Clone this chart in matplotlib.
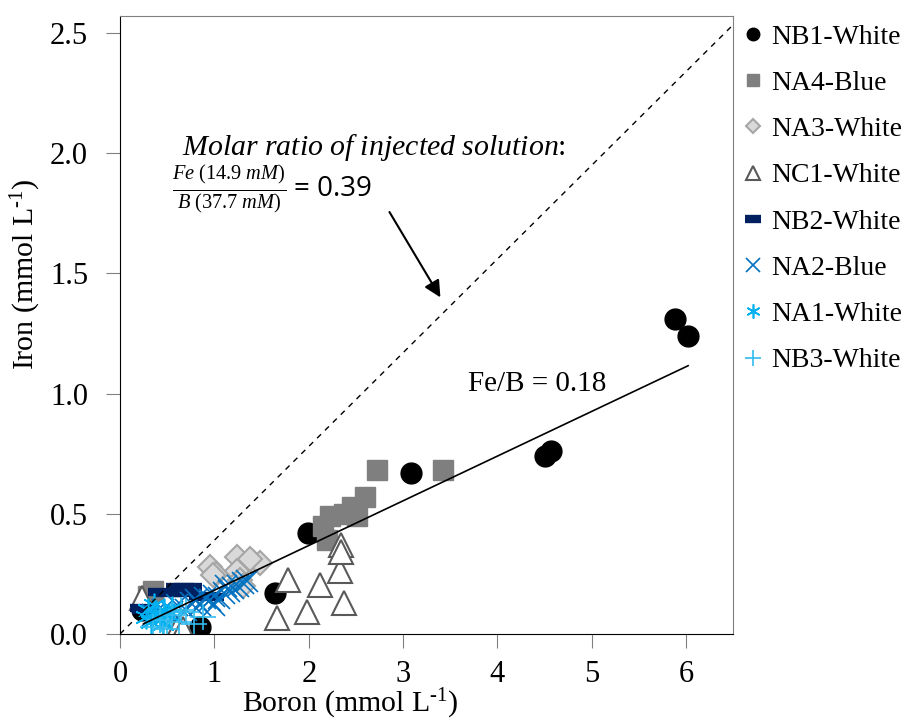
import numpy as np
import matplotlib.pyplot as plt

# series values (boron, iron) in mmol/L
nb1_b = [5.88, 6.02, 4.50, 4.57, 3.08, 1.99, 1.64, 0.85, 0.23]
nb1_fe = [1.31, 1.24, 0.74, 0.76, 0.67, 0.42, 0.17, 0.03, 0.10]

na4_b = [2.72, 3.42, 2.60, 2.46, 2.37, 2.23, 2.15, 2.19, 2.51, 0.35, 0.30]
na4_fe = [0.68, 0.68, 0.57, 0.53, 0.50, 0.49, 0.45, 0.39, 0.49, 0.18, 0.16]

na3_b = [0.95, 1.24, 1.02, 1.41, 1.48, 1.24, 1.27, 1.30, 0.99, 1.38]
na3_fe = [0.28, 0.32, 0.25, 0.30, 0.295, 0.26, 0.225, 0.20, 0.245, 0.31]

nc1_b = [1.78, 2.12, 2.33, 2.37, 1.66, 1.98, 2.34, 2.34, 0.23, 0.60, 0.67]
nc1_fe = [0.225, 0.205, 0.26, 0.13, 0.065, 0.09, 0.37, 0.34, 0.15, 0.02, 0.02]

nb2_b = [0.44, 0.64, 0.72, 0.51, 0.69, 0.88, 0.25, 0.28, 0.95]
nb2_fe = [0.176, 0.197, 0.197, 0.17, 0.17, 0.16, 0.11, 0.10, 0.155]

na2_b = [0.35, 0.45, 0.55, 0.60, 0.70, 0.75, 0.85, 0.90, 0.95, 1.00,
         1.05, 1.10, 1.15, 1.20, 1.25, 1.30, 1.35, 0.80, 1.12, 1.00]
na2_fe = [0.08, 0.10, 0.09, 0.12, 0.10, 0.13, 0.12, 0.15, 0.14, 0.16,
          0.15, 0.17, 0.18, 0.19, 0.20, 0.21, 0.22, 0.14, 0.20, 0.12]

na1_b = [0.28, 0.33, 0.38, 0.42, 0.47, 0.52, 0.36, 0.30, 0.45, 0.55]
na1_fe = [0.07, 0.05, 0.09, 0.06, 0.10, 0.08, 0.12, 0.10, 0.04, 0.11]

nb3_b = [0.35, 0.42, 0.50, 0.55, 0.62, 0.70, 0.78, 0.88, 0.45, 0.65]
nb3_fe = [0.03, 0.06, 0.02, 0.08, 0.05, 0.09, 0.04, 0.07, -0.01, 0.10]

# fitted trend and injected-solution ratio
fit_slope, fit_icpt = 0.186, -0.004
fit_x = [0.25, 6.02]
inj_ratio = 0.39

plt.rcParams['font.family'] = ['Liberation Serif', 'DejaVu Serif']
plt.rcParams['mathtext.fontset'] = 'custom'
plt.rcParams['mathtext.rm'] = 'Liberation Serif'
plt.rcParams['mathtext.it'] = 'Liberation Serif:italic'

fig = plt.figure(figsize=(9.06, 7.21), dpi=100)
ax = fig.add_axes([0.1325, 0.1207, 0.677, 0.857])

ax.plot(nb1_b, nb1_fe, 'o', color='black', ms=15, label='NB1-White')
ax.plot(na4_b, na4_fe, 's', color='#7f7f7f', ms=15, label='NA4-Blue')
ax.plot(na3_b, na3_fe, 'D', mfc='#d9d9d9', mec='#a6a6a6', mew=1.5, ms=12, label='NA3-White')
ax.plot(nc1_b, nc1_fe, '^', mfc='white', mec='#595959', mew=1.5, ms=17, label='NC1-White')
ax.plot(nb2_b, nb2_fe, '_', color='#002060', ms=20, mew=6, label='NB2-White')
ax.plot(na2_b, na2_fe, 'x', color='#0070c0', ms=16, mew=1.2, ls='none', label='NA2-Blue')
ax.plot(na1_b, na1_fe, marker=(6, 2, 0), color='#00b0f0', ms=17, mew=1.2, ls='none', label='NA1-White')
ax.plot(nb3_b, nb3_fe, '+', color='#33bbee', ms=19, mew=1.2, ls='none', label='NB3-White')

fx = np.array(fit_x)
ax.plot(fx, fit_slope * fx + fit_icpt, color='black', lw=1.2)
dx = np.array([0, 6.5])
ax.plot(dx, inj_ratio * dx, color='black', lw=1, ls=(0, (4, 4)))

ax.set_xlim(0, 6.5)
ax.set_ylim(0, 2.57)
ax.set_xticks(range(0, 7))
ax.set_yticks(np.arange(0, 2.51, 0.5))
ax.set_yticklabels([f'{v:.1f}' for v in np.arange(0, 2.51, 0.5)])
ax.tick_params(labelsize=22, direction='out', length=10, color='#808080')
ax.tick_params(axis='y', pad=13)
ax.tick_params(axis='x', pad=9)
ax.set_xlabel(r'Boron (mmol L$^{\text{-1}}$)', fontsize=21.5)
ax.set_ylabel(r'Iron (mmol L$^{\text{-1}}$)', fontsize=21.5)
ax.xaxis.set_label_coords(0.376, -0.086)
ax.yaxis.set_label_coords(-0.125, 0.583)
for s in ['top', 'right']:
    ax.spines[s].set_color('#808080')

ax.text(3.69, 1.04, 'Fe/B = 0.18', fontsize=21, va='center')
ax.text(0.66, 2.025, r'$Molar\ ratio\ of\ injected\ solution$:', fontsize=21.5, va='center')
ax.text(0.55, 1.85, r'$\frac{Fe\ (14.9\ mM)}{B\ (37.7\ mM)}$', fontsize=21, va='center')
ax.text(1.84, 1.85, '= 0.39', fontsize=20, va='center', family='Open Sans')
ax.annotate('', xy=(3.41, 1.39), xytext=(2.84, 1.765),
            arrowprops=dict(arrowstyle='-|>', color='black', lw=1.5, mutation_scale=25))

ax.legend(loc='upper left', bbox_to_anchor=(1.0, 1.005), frameon=False, fontsize=20,
          markerscale=0.6, handlelength=0.6, handletextpad=0.35, labelspacing=0.75,
          borderaxespad=0.3, borderpad=0.1)

fig.savefig('out.png', dpi=100)
